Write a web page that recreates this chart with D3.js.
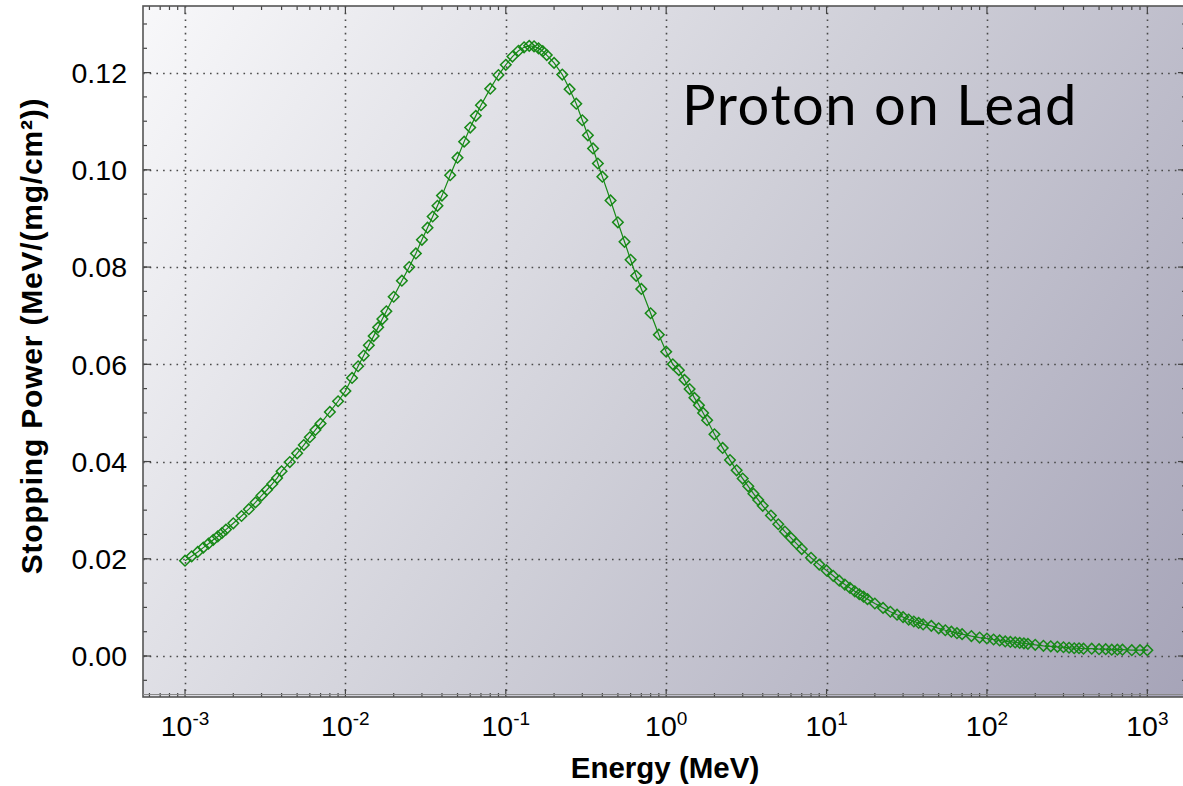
<!DOCTYPE html>
<html>
<head>
<meta charset="utf-8">
<script src="https://cdn.jsdelivr.net/npm/d3@7/dist/d3.min.js"></script>
<style>
  html, body { margin: 0; padding: 0; background: #ffffff; overflow: hidden; }
  svg { display: block; }
</style>
</head>
<body>
<svg id="chart" width="1183" height="786"></svg>
<script>
// ---- Data (energy in keV, stopping power in MeV/(mg/cm^2)) ----
const energyKeV = [
  1, 1.1, 1.2, 1.3, 1.4, 1.5, 1.6, 1.7, 1.8, 2.0, 2.25, 2.5, 2.75, 3.0, 3.25, 3.5, 3.75, 4.0, 4.5, 5.0, 5.5, 6.0, 6.5, 7.0, 8.0, 9.0,
  10, 11, 12, 13, 14, 15, 16, 17, 18, 20, 22.5, 25, 27.5, 30, 32.5, 35, 37.5, 40, 45, 50, 55, 60, 65, 70, 80, 90,
  100, 110, 120, 130, 140, 150, 160, 170, 180, 200, 225, 250, 275, 300, 325, 350, 375, 400, 450, 500, 550, 600, 650, 700, 800, 900,
  1000, 1100, 1200, 1300, 1400, 1500, 1600, 1700, 1800, 2000, 2250, 2500, 2750, 3000, 3250, 3500, 3750, 4000, 4500, 5000, 5500, 6000, 6500, 7000, 8000, 9000,
  10000, 11000, 12000, 13000, 14000, 15000, 16000, 17000, 18000, 20000, 22500, 25000, 27500, 30000, 32500, 35000, 37500, 40000, 45000, 50000, 55000, 60000, 65000, 70000, 80000, 90000,
  100000, 110000, 120000, 130000, 140000, 150000, 160000, 170000, 180000, 200000, 225000, 250000, 275000, 300000, 325000, 350000, 375000, 400000, 450000, 500000, 550000, 600000, 650000, 700000, 800000, 900000,
  1000000
];
const stoppingPower = [
  0.0196, 0.0205, 0.0214, 0.0223, 0.0231, 0.0239, 0.0246, 0.0253, 0.0260, 0.0273, 0.0288, 0.0302, 0.0316, 0.0330, 0.0342, 0.0354, 0.0366, 0.0380, 0.0399, 0.0417, 0.0434, 0.0450, 0.0465, 0.0478, 0.0502, 0.0524,
  0.0545, 0.0572, 0.0596, 0.0618, 0.0639, 0.0658, 0.0676, 0.0693, 0.0709, 0.0739, 0.0772, 0.0800, 0.0828, 0.0856, 0.0881, 0.0904, 0.0926, 0.0947, 0.0989, 0.1025, 0.1058, 0.1087, 0.1111, 0.1133, 0.1167, 0.1195,
  0.1216, 0.1233, 0.1245, 0.1252, 0.1255, 0.1254, 0.1250, 0.1244, 0.1236, 0.1220, 0.1196, 0.1166, 0.1136, 0.1102, 0.1071, 0.1044, 0.1013, 0.0986, 0.0937, 0.0892, 0.0852, 0.0815, 0.0782, 0.0755, 0.0705, 0.0661,
  0.0626, 0.0600, 0.0588, 0.0568, 0.0549, 0.0531, 0.0516, 0.0500, 0.0485, 0.0456, 0.0428, 0.0403, 0.0382, 0.0365, 0.0349, 0.0334, 0.0321, 0.0309, 0.0289, 0.0271, 0.0256, 0.0243, 0.0231, 0.0220, 0.0202, 0.0188,
  0.0176, 0.0165, 0.0155, 0.0147, 0.0140, 0.0133, 0.0127, 0.0122, 0.0117, 0.0108, 0.0099, 0.0091, 0.0085, 0.0080, 0.0075, 0.0071, 0.0068, 0.0065, 0.0062, 0.0057, 0.0053, 0.0050, 0.0047, 0.0045, 0.0041, 0.0038,
  0.0036, 0.0034, 0.0032, 0.0030, 0.0029, 0.0028, 0.0027, 0.0026, 0.0025, 0.0023, 0.0021, 0.0020, 0.0019, 0.0018, 0.0017, 0.0016, 0.0016, 0.0015, 0.0015, 0.0014, 0.0014, 0.0013, 0.0013, 0.0013, 0.0012, 0.0012,
  0.0012
];
const xTickExponents = [-3, -2, -1, 0, 1, 2, 3];
const yTickValues = [0.00, 0.02, 0.04, 0.06, 0.08, 0.10, 0.12];
const yTickLabels = ["0.00", "0.02", "0.04", "0.06", "0.08", "0.10", "0.12"];
const chartTitle = "Proton on Lead";
const xTitle = "Energy (MeV)";
const yTitle = "Stopping Power (MeV/(mg/cm\u00B2))";

// ---- Layout ----
const plot = { left: 143, top: 6, right: 1186, bottom: 697 };
const svg = d3.select("#chart");

const x = d3.scaleLog().domain([5.47e-4, 1742]).range([plot.left, plot.right]);
const y = d3.scaleLinear().domain([-0.00843, 0.1337]).range([plot.bottom, plot.top]);

const data = energyKeV.map((e, i) => ({ e: e / 1000, v: stoppingPower[i] }));

// background gradient
const defs = svg.append("defs");
const grad = defs.append("linearGradient").attr("id", "bg")
  .attr("gradientUnits", "userSpaceOnUse")
  .attr("x1", plot.left).attr("y1", plot.top)
  .attr("x2", plot.right).attr("y2", plot.bottom);
grad.append("stop").attr("offset", "0%").attr("stop-color", "#f8f8fa");
grad.append("stop").attr("offset", "50%").attr("stop-color", "#cfcfd8");
grad.append("stop").attr("offset", "100%").attr("stop-color", "#a6a4b8");

defs.append("clipPath").attr("id", "clip").append("rect")
  .attr("x", plot.left).attr("y", plot.top)
  .attr("width", plot.right - plot.left).attr("height", plot.bottom - plot.top);

svg.append("rect")
  .attr("x", plot.left).attr("y", plot.top)
  .attr("width", plot.right - plot.left).attr("height", plot.bottom - plot.top)
  .attr("fill", "url(#bg)");

// grid lines
const grid = svg.append("g").attr("clip-path", "url(#clip)")
  .attr("stroke", "#4a4a4a").attr("stroke-width", 1.6)
  .attr("stroke-dasharray", "1.6,5.1").attr("fill", "none");
xTickExponents.forEach(p => {
  const xv = Math.round(x(Math.pow(10, p))) + 0.5;
  grid.append("line").attr("x1", xv).attr("x2", xv).attr("y1", plot.top).attr("y2", plot.bottom);
});
yTickValues.forEach(v => {
  const yv = Math.round(y(v)) + 0.5;
  grid.append("line").attr("x1", plot.left).attr("x2", plot.right).attr("y1", yv).attr("y2", yv);
});

// ticks (inside)
const ticks = svg.append("g").attr("stroke", "#444").attr("stroke-width", 1.2);
const minorX = [];
for (let p = -4; p <= 3; p++) {
  for (let m = 2; m <= 9; m++) {
    const v = m * Math.pow(10, p);
    if (v > x.domain()[0] && v < x.domain()[1]) minorX.push(v);
  }
}
minorX.forEach(v => {
  const xv = x(v);
  ticks.append("line").attr("x1", xv).attr("x2", xv).attr("y1", plot.bottom).attr("y2", plot.bottom - 4);
  ticks.append("line").attr("x1", xv).attr("x2", xv).attr("y1", plot.top).attr("y2", plot.top + 4);
});
xTickExponents.forEach(p => {
  const xv = x(Math.pow(10, p));
  ticks.append("line").attr("x1", xv).attr("x2", xv).attr("y1", plot.bottom).attr("y2", plot.bottom - 8);
  ticks.append("line").attr("x1", xv).attr("x2", xv).attr("y1", plot.top).attr("y2", plot.top + 8);
});
const minorY = d3.range(-0.005, 0.1351, 0.005).filter(v => y(v) < plot.bottom && y(v) > plot.top);
minorY.forEach(v => {
  const yv = y(v);
  ticks.append("line").attr("x1", plot.left).attr("x2", plot.left + 4).attr("y1", yv).attr("y2", yv);
  ticks.append("line").attr("x1", plot.right).attr("x2", plot.right - 4).attr("y1", yv).attr("y2", yv);
});
yTickValues.forEach(v => {
  const yv = y(v);
  ticks.append("line").attr("x1", plot.left).attr("x2", plot.left + 8).attr("y1", yv).attr("y2", yv);
  ticks.append("line").attr("x1", plot.right).attr("x2", plot.right - 8).attr("y1", yv).attr("y2", yv);
});

// frame
svg.append("rect")
  .attr("x", plot.left).attr("y", plot.top)
  .attr("width", plot.right - plot.left).attr("height", plot.bottom - plot.top)
  .attr("fill", "none").attr("stroke", "#555").attr("stroke-width", 1.6);
svg.append("line").attr("x1", plot.left).attr("x2", plot.right)
  .attr("y1", plot.bottom - 2.5).attr("y2", plot.bottom - 2.5)
  .attr("stroke", "#888").attr("stroke-width", 1);

// series line + markers
const g = svg.append("g").attr("clip-path", "url(#clip)");
const line = d3.line().x(d => x(d.e)).y(d => y(d.v));
g.append("path").datum(data).attr("d", line)
  .attr("fill", "none").attr("stroke", "#178917").attr("stroke-width", 1.2);
const sym = d3.symbol().type(d3.symbolSquare).size(56);
g.selectAll("path.mk").data(data).enter().append("path").attr("class", "mk")
  .attr("d", sym)
  .attr("transform", d => `translate(${x(d.e)},${y(d.v)}) rotate(45)`)
  .attr("fill", "none").attr("stroke", "#178917").attr("stroke-width", 1.5);

// tick labels
const font = "'Liberation Sans', Arial, Helvetica, sans-serif";
const yl = svg.append("g").attr("font-family", font).attr("font-size", 28.5).attr("fill", "#000");
yTickValues.forEach((v, i) => {
  yl.append("text").attr("x", 127).attr("y", y(v)).attr("dy", "0.36em")
    .attr("text-anchor", "end").text(yTickLabels[i]);
});
const xl = svg.append("g").attr("font-family", font).attr("fill", "#000");
xTickExponents.forEach(p => {
  const t = xl.append("text").attr("x", x(Math.pow(10, p))).attr("y", 736)
    .attr("text-anchor", "middle").attr("font-size", 28.5);
  t.append("tspan").text("10");
  t.append("tspan").attr("font-size", 19).attr("dy", -11).text(String(p));
});

// axis titles
svg.append("text").attr("x", 665).attr("y", 778).attr("text-anchor", "middle")
  .attr("font-family", font).attr("font-weight", "bold").attr("font-size", 29.5)
  .text(xTitle);
svg.append("text").attr("transform", "translate(42,336) rotate(-90)")
  .attr("text-anchor", "middle")
  .attr("font-family", font).attr("font-weight", "bold").attr("font-size", 30)
  .attr("letter-spacing", 0.8)
  .text(yTitle);

// chart title
svg.append("text").attr("x", 682).attr("y", 125)
  .attr("font-family", "Lato, 'Open Sans', sans-serif").attr("font-size", 56)
  .attr("letter-spacing", 1.6)
  .attr("fill", "#000").text(chartTitle);
</script>
</body>
</html>
